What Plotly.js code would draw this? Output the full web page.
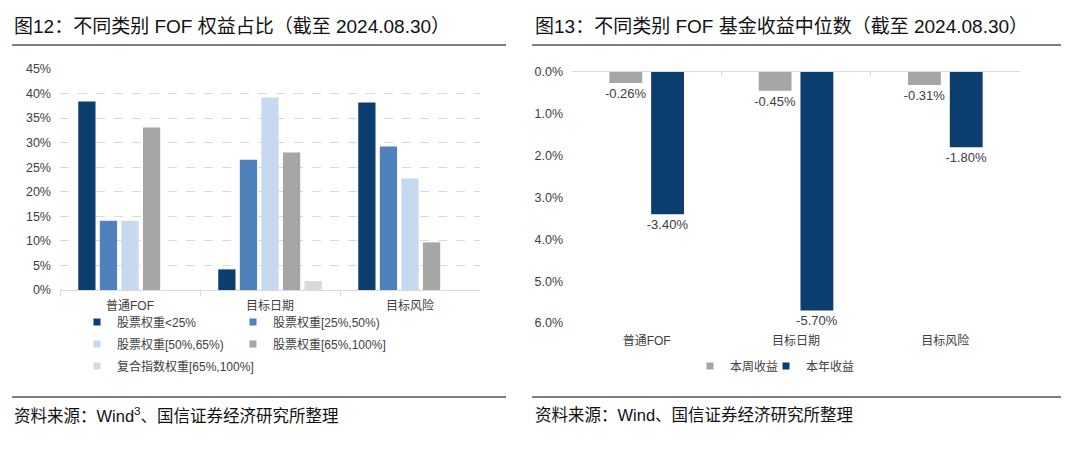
<!DOCTYPE html>
<html>
<head>
<meta charset="utf-8">
<script src="https://cdn.plot.ly/plotly-3.0.1.min.js"></script>
<style>
html,body{margin:0;padding:0;background:#fff;}
#chart{width:1080px;height:458px;}
</style>
</head>
<body>
<div id="chart"></div>
<script>
// ---------- data ----------
const categories = ['普通FOF', '目标日期', '目标风险'];

// left chart: equity weight share (%)
const seriesNames = ['股票权重<25%', '股票权重[25%,50%)', '股票权重[50%,65%)', '股票权重[65%,100%]', '复合指数权重[65%,100%]'];
const shareLt25 = [38.4, 4.2, 38.2];
const share25to50 = [14.1, 26.5, 29.2];
const share50to65 = [14.1, 39.2, 22.7];
const share65to100 = [33.1, 28.0, 9.7];
const shareIndex65to100 = [null, 1.8, null];
const shareTickVals = [0, 5, 10, 15, 20, 25, 30, 35, 40, 45];
const shareTickText = ['0%', '5%', '10%', '15%', '20%', '25%', '30%', '35%', '40%', '45%'];

// right chart: median returns (%)
const returnNames = ['本周收益', '本年收益'];
const weeklyReturn = [-0.26, -0.45, -0.31];
const ytdReturn = [-3.40, -5.70, -1.80];
const returnTickVals = [0, -1, -2, -3, -4, -5, -6];
const returnTickText = ['0.0%', '1.0%', '2.0%', '3.0%', '4.0%', '5.0%', '6.0%'];

// ---------- styles ----------
const W = 1080, H = 458;
const px = v => v / W;
const py = v => (H - v) / H;
const latinCJK = 'Liberation Sans, Arial, Noto Sans CJK SC, sans-serif';
const navy = '#0B3D6F', midBlue = '#4F81BD', lightBlue = '#C6D9F1', gray = '#A6A6A6', lightGray = '#D9D9D9';
const leftColors = [navy, midBlue, lightBlue, gray, lightGray];
const leftSeries = [shareLt25, share25to50, share50to65, share65to100, shareIndex65to100];
const leftLegends = ['legend', 'legend', 'legend2', 'legend2', 'legend3'];

const traces = [];
leftSeries.forEach((vals, i) => {
  traces.push({
    type: 'bar', x: categories, y: vals, name: seriesNames[i],
    marker: {color: leftColors[i], line: {width: 0}},
    xaxis: 'x', yaxis: 'y', showlegend: false, hoverinfo: 'x+y'
  });
});
// legend entries (small square swatches)
leftSeries.forEach((vals, i) => {
  traces.push({
    type: 'scatter', mode: 'markers', x: [null], y: [null], name: seriesNames[i],
    marker: {symbol: 'square', size: 7, color: leftColors[i]},
    xaxis: 'x', yaxis: 'y', legend: leftLegends[i], showlegend: true, hoverinfo: 'skip'
  });
});

const fmt = v => v.toFixed(2) + '%';
const labelFont = {family: 'Liberation Sans, Arial, sans-serif', size: 13, color: '#404040'};
traces.push({
  type: 'bar', x: categories, y: weeklyReturn, name: returnNames[0],
  marker: {color: gray}, width: 0.22, offset: -0.25,
  text: weeklyReturn.map(fmt), textposition: 'outside', cliponaxis: false, constraintext: 'none',
  textfont: labelFont, outsidetextfont: labelFont,
  xaxis: 'x2', yaxis: 'y2', showlegend: false
});
traces.push({
  type: 'bar', x: categories, y: ytdReturn, name: returnNames[1],
  marker: {color: navy}, width: 0.22, offset: 0.03,
  text: ytdReturn.map(fmt), textposition: 'outside', cliponaxis: false, constraintext: 'none',
  textfont: labelFont, outsidetextfont: labelFont,
  xaxis: 'x2', yaxis: 'y2', showlegend: false
});
[gray, navy].forEach((c, i) => {
  traces.push({
    type: 'scatter', mode: 'markers', x: [null], y: [null], name: returnNames[i],
    marker: {symbol: 'square', size: 7, color: c},
    xaxis: 'x2', yaxis: 'y2', legend: i === 0 ? 'legend4' : 'legend5', showlegend: true, hoverinfo: 'skip'
  });
});
// helper for boundary ticks on the top (zero) line of right chart
traces.push({
  type: 'scatter', mode: 'markers', x: categories, y: [null, null, null],
  xaxis: 'x3', yaxis: 'y2', showlegend: false, hoverinfo: 'skip'
});

const tickFont = {family: latinCJK, size: 12.5, color: '#404040'};
const catFont = {family: latinCJK, size: 12, color: '#404040'};
const legendFont = {family: latinCJK, size: 12, color: '#404040'};
const legendBase = {orientation: 'h', xanchor: 'left', yanchor: 'middle', font: legendFont,
  bgcolor: 'rgba(0,0,0,0)', borderwidth: 0, entrywidth: 111, itemwidth: 30, tracegroupgap: 0};

const layout = {
  width: W, height: H,
  margin: {l: 0, r: 0, t: 0, b: 0},
  paper_bgcolor: '#fff', plot_bgcolor: '#fff',
  barmode: 'group', bargap: 0.23, bargroupgap: 0.2,
  showlegend: true,
  xaxis: {domain: [px(60), px(480)], anchor: 'y', type: 'category', range: [-0.5, 2.5],
    tickson: 'boundaries', ticks: 'outside', ticklen: 5, tickcolor: '#D9D9D9',
    showline: true, linecolor: '#D9D9D9', linewidth: 1, showgrid: false, zeroline: false,
    ticklabelstandoff: 5, tickfont: catFont, fixedrange: true},
  yaxis: {domain: [py(290), py(69)], anchor: 'x', range: [0, 45], tickvals: shareTickVals, ticktext: shareTickText,
    showgrid: true, gridcolor: '#D9D9D9', griddash: 'dash', gridwidth: 1, zeroline: false,
    showline: false, ticks: '', ticklabelstandoff: 8, tickfont: tickFont, fixedrange: true},
  xaxis2: {domain: [px(572), px(1020)], anchor: 'y2', type: 'category', range: [-0.5, 2.5],
    showline: false, ticks: '', showgrid: false, zeroline: false, ticklabelstandoff: 9, tickfont: catFont, fixedrange: true},
  xaxis3: {overlaying: 'x2', anchor: 'y2', side: 'top', type: 'category', range: [-0.5, 2.5],
    tickson: 'boundaries', ticks: 'inside', ticklen: 4, tickcolor: '#D9D9D9',
    showline: true, linecolor: '#D9D9D9', linewidth: 1, showticklabels: false, showgrid: false, zeroline: false, fixedrange: true},
  yaxis2: {domain: [py(323), py(72)], anchor: 'x2', range: [-6, 0], tickvals: returnTickVals, ticktext: returnTickText,
    showgrid: false, zeroline: false, showline: false, ticks: '', ticklabelstandoff: 8, tickfont: tickFont, fixedrange: true},
  legend: Object.assign({}, legendBase, {x: px(77), y: py(322)}),
  legend2: Object.assign({}, legendBase, {x: px(77), y: py(344)}),
  legend3: Object.assign({}, legendBase, {x: px(77), y: py(366), entrywidth: 170}),
  legend4: Object.assign({}, legendBase, {x: px(690), y: py(366), entrywidth: 60}),
  legend5: Object.assign({}, legendBase, {x: px(766), y: py(366), entrywidth: 60}),
  annotations: [
    {text: '图12：不同类别 FOF 权益占比（截至 2024.08.30）', xref: 'paper', yref: 'paper', x: px(12), y: py(27),
      xanchor: 'left', yanchor: 'middle', showarrow: false, font: {family: latinCJK, size: 19, color: '#111'}},
    {text: '图13：不同类别 FOF 基金收益中位数（截至 2024.08.30）', xref: 'paper', yref: 'paper', x: px(533), y: py(27),
      xanchor: 'left', yanchor: 'middle', showarrow: false, font: {family: latinCJK, size: 19, color: '#111'}},
    {text: '资料来源：Wind<sup>3</sup>、国信证券经济研究所整理', xref: 'paper', yref: 'paper', x: px(12), y: py(415),
      xanchor: 'left', yanchor: 'middle', showarrow: false, font: {family: latinCJK, size: 16.5, color: '#111'}},
    {text: '资料来源：Wind、国信证券经济研究所整理', xref: 'paper', yref: 'paper', x: px(533), y: py(415),
      xanchor: 'left', yanchor: 'middle', showarrow: false, font: {family: latinCJK, size: 16.5, color: '#111'}}
  ],
  shapes: [
    {type: 'line', xref: 'paper', yref: 'paper', x0: px(12), x1: px(506), y0: py(45), y1: py(45), line: {color: '#555', width: 1.5}},
    {type: 'line', xref: 'paper', yref: 'paper', x0: px(532), x1: px(1061), y0: py(45), y1: py(45), line: {color: '#555', width: 1.5}},
    {type: 'line', xref: 'paper', yref: 'paper', x0: px(12), x1: px(506), y0: py(397), y1: py(397), line: {color: '#555', width: 1.5}},
    {type: 'line', xref: 'paper', yref: 'paper', x0: px(532), x1: px(1061), y0: py(397), y1: py(397), line: {color: '#555', width: 1.5}}
  ]
};

Plotly.newPlot('chart', traces, layout, {staticPlot: true, displayModeBar: false});
</script>
</body>
</html>
